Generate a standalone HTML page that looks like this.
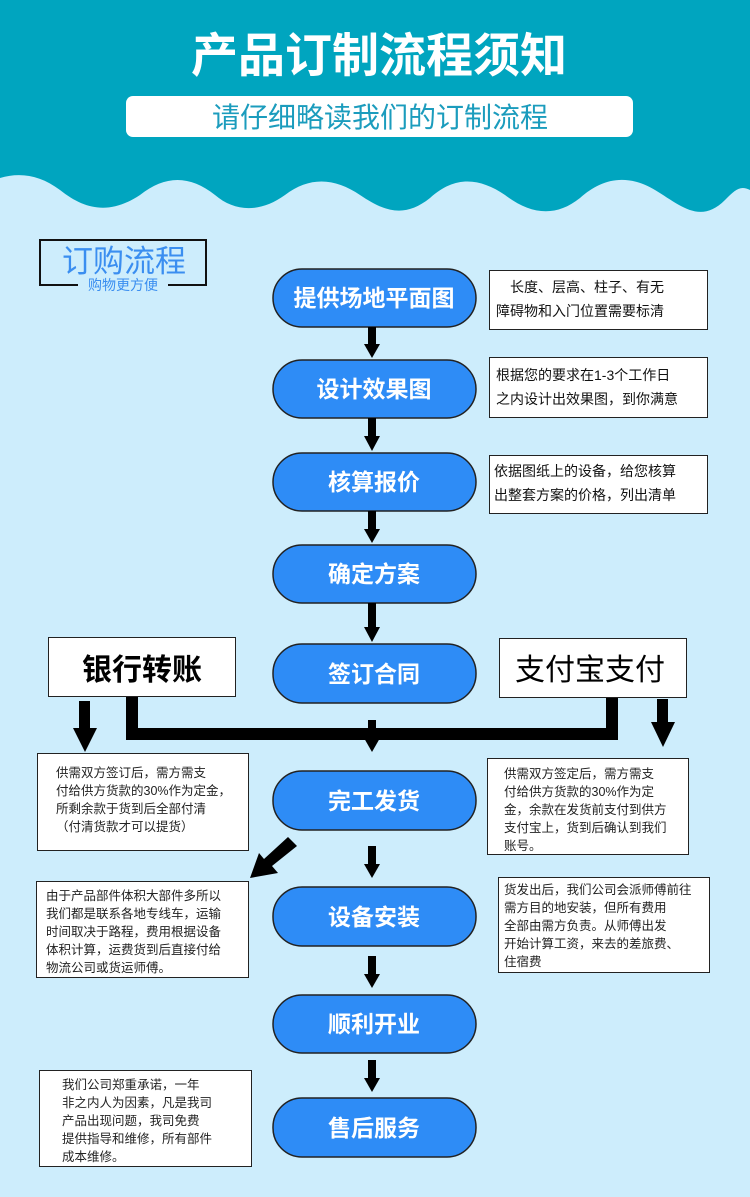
<!DOCTYPE html>
<html><head><meta charset="utf-8"><style>
html,body{margin:0;padding:0;background:#cdedfc;}
svg{display:block}
text{font-family:"Liberation Sans","Noto Sans CJK SC",sans-serif;}
</style></head><body>
<svg width="750" height="1197" viewBox="0 0 750 1197" xmlns="http://www.w3.org/2000/svg">
<rect width="750" height="1197" fill="#cdedfc"/>
<path d="M0,0 H750 V190 C740,185 735,190 725,200 C700,225 680,205 655,190 C625,172 600,180 580,198 C555,218 530,214 505,195 C480,178 455,175 430,198 C405,218 385,212 360,195 C335,178 310,176 285,195 C260,213 235,212 215,195 C190,175 165,175 140,195 C110,215 85,210 60,190 C40,175 20,172 0,178 Z" fill="#00a5bf"/>
<text x="379" y="72" text-anchor="middle" font-size="47" font-weight="bold" fill="#fff">产品订制流程须知</text>
<rect x="126" y="96" width="507" height="41" rx="7" fill="#fff"/>
<text x="380" y="127" text-anchor="middle" font-size="28" fill="#1b9cbd">请仔细略读我们的订制流程</text>

<rect x="40" y="240" width="166" height="45" fill="none" stroke="#111" stroke-width="2"/>
<text x="124" y="272" text-anchor="middle" font-size="31" fill="#3a8ef0">订购流程</text>
<rect x="78" y="276" width="90" height="16" fill="#cdedfc"/>
<text x="123" y="290" text-anchor="middle" font-size="14" fill="#3a8ef0">购物更方便</text>

<g fill="#2e8cf6" stroke="#222" stroke-width="1.5">
<rect x="273" y="269" width="203" height="58" rx="29"/>
<rect x="273" y="360" width="203" height="58" rx="29"/>
<rect x="273" y="453" width="203" height="58" rx="29"/>
<rect x="273" y="545" width="203" height="58" rx="29"/>
<rect x="273" y="644" width="203" height="59" rx="29"/>
<rect x="273" y="771" width="203" height="59" rx="29"/>
<rect x="273" y="887" width="203" height="59" rx="29"/>
<rect x="273" y="995" width="203" height="58" rx="29"/>
<rect x="273" y="1098" width="203" height="59" rx="29"/>
</g>
<g fill="#fff" font-size="23" font-weight="bold" text-anchor="middle">
<text x="374" y="306">提供场地平面图</text>
<text x="374" y="397">设计效果图</text>
<text x="374" y="490">核算报价</text>
<text x="374" y="582">确定方案</text>
<text x="374" y="682">签订合同</text>
<text x="374" y="809">完工发货</text>
<text x="374" y="925">设备安装</text>
<text x="374" y="1032">顺利开业</text>
<text x="374" y="1136">售后服务</text>
</g>

<g fill="#000">
<rect x="368" y="327" width="8" height="19"/><polygon points="364,344 380,344 372,358"/>
<rect x="368" y="418" width="8" height="20"/><polygon points="364,436 380,436 372,451"/>
<rect x="368" y="511" width="8" height="19"/><polygon points="364,529 380,529 372,543"/>
<rect x="368" y="603" width="8" height="25"/><polygon points="364,627 380,627 372,642"/>
<rect x="368" y="720" width="8" height="20"/><polygon points="364,738 380,738 372,752"/>
<rect x="368" y="846" width="8" height="20"/><polygon points="364,864 380,864 372,878"/>
<rect x="368" y="956" width="8" height="20"/><polygon points="364,974 380,974 372,988"/>
<rect x="368" y="1060" width="8" height="22"/><polygon points="364,1078 380,1078 372,1092"/>
<rect x="126" y="697" width="12" height="43"/>
<rect x="126" y="728" width="492" height="12"/>
<rect x="606" y="697" width="12" height="43"/>
<rect x="79" y="701" width="11" height="29"/><polygon points="73,728 97,728 85,752"/>
<rect x="657" y="699" width="11" height="25"/><polygon points="651,722 675,722 663,747"/>
<polygon points="288,837 297,846 272,866 278,873 250,878 259,853 264,859"/>
</g>

<g fill="#fff" stroke="#222" stroke-width="1">
<rect x="489.5" y="270.5" width="218" height="59"/>
<rect x="489.5" y="357.5" width="218" height="60"/>
<rect x="489.5" y="455.5" width="218" height="58"/>
<rect x="48.5" y="637.5" width="187" height="59"/>
<rect x="499.5" y="638.5" width="187" height="59"/>
<rect x="37.5" y="753.5" width="211" height="97"/>
<rect x="487.5" y="758.5" width="201" height="96"/>
<rect x="36.5" y="881.5" width="212" height="96"/>
<rect x="498.5" y="877.5" width="211" height="95"/>
<rect x="39.5" y="1070.5" width="212" height="96"/>
</g>
<text x="142" y="680" text-anchor="middle" font-size="30" font-weight="bold" fill="#000">银行转账</text>
<text x="590" y="680" text-anchor="middle" font-size="30" fill="#000">支付宝支付</text>
<g font-size="14" fill="#111">
<text x="510" y="292">长度、层高、柱子、有无</text>
<text x="496" y="316">障碍物和入门位置需要标清</text>
<text x="496" y="380">根据您的要求在1-3个工作日</text>
<text x="496" y="404">之内设计出效果图，到你满意</text>
<text x="494" y="476">依据图纸上的设备，给您核算</text>
<text x="494" y="500">出整套方案的价格，列出清单</text>
</g>
<g font-size="12.5" fill="#222">
<text x="56" y="777">供需双方签订后，需方需支</text>
<text x="56" y="795">付给供方货款的30%作为定金，</text>
<text x="56" y="813">所剩余款于货到后全部付清</text>
<text x="56" y="831">（付清货款才可以提货）</text>
<text x="504" y="778">供需双方签定后，需方需支</text>
<text x="504" y="796">付给供方货款的30%作为定</text>
<text x="504" y="814">金，余款在发货前支付到供方</text>
<text x="504" y="832">支付宝上，货到后确认到我们</text>
<text x="504" y="850">账号。</text>
<text x="46" y="900">由于产品部件体积大部件多所以</text>
<text x="46" y="918">我们都是联系各地专线车，运输</text>
<text x="46" y="936">时间取决于路程，费用根据设备</text>
<text x="46" y="954">体积计算，运费货到后直接付给</text>
<text x="46" y="972">物流公司或货运师傅。</text>
<text x="504" y="894">货发出后，我们公司会派师傅前往</text>
<text x="504" y="912">需方目的地安装，但所有费用</text>
<text x="504" y="930">全部由需方负责。从师傅出发</text>
<text x="504" y="948">开始计算工资，来去的差旅费、</text>
<text x="504" y="966">住宿费</text>
<text x="62" y="1089">我们公司郑重承诺，一年</text>
<text x="62" y="1107">非之内人为因素，凡是我司</text>
<text x="62" y="1125">产品出现问题，我司免费</text>
<text x="62" y="1143">提供指导和维修，所有部件</text>
<text x="62" y="1161">成本维修。</text>
</g>
</svg>
</body></html>
